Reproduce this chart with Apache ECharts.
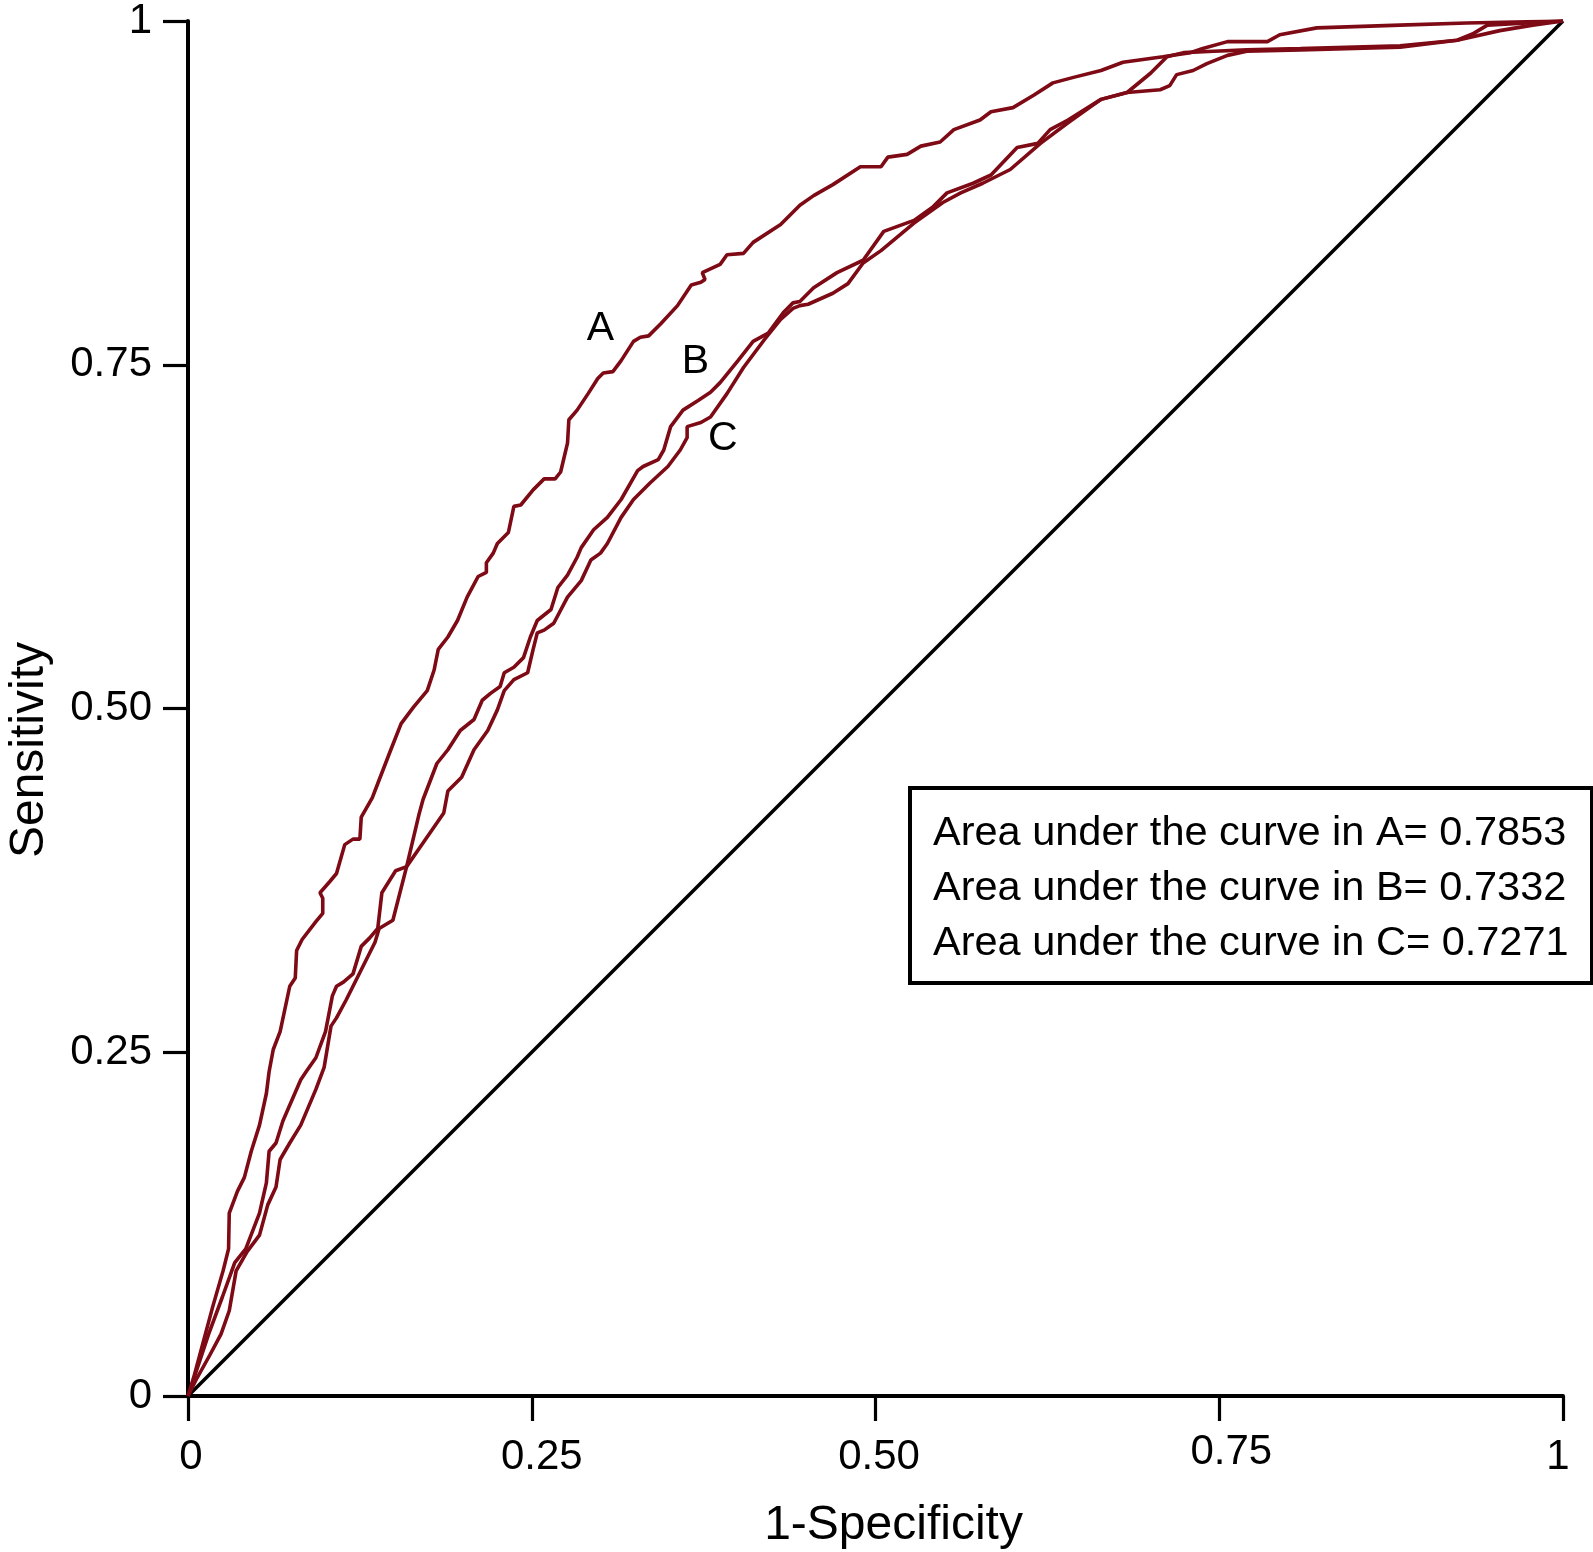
<!DOCTYPE html>
<html>
<head>
<meta charset="utf-8">
<script src="https://cdn.jsdelivr.net/npm/echarts@6/dist/echarts.min.js"></script>
<style>
html,body{margin:0;padding:0;background:#fff;}
#chart{width:1593px;height:1552px;}
</style>
</head>
<body>
<div id="chart"></div>
<script>
// ---- data ----
const xTicks = [0, 0.25, 0.5, 0.75, 1];
const yTicks = [0, 0.25, 0.5, 0.75, 1];
const diagonal = [[0,0],[1,1]];
const curveA = [
[0,0],[0.004,0.013],[0.011,0.039],[0.018,0.065],[0.0255,0.091],[0.0295,0.107],[0.030,0.133],[0.036,0.149],[0.041,0.159],[0.046,0.178],[0.052,0.197],[0.057,0.220],[0.059,0.236],[0.062,0.252],[0.067,0.265],[0.074,0.298],[0.078,0.304],[0.079,0.324],[0.083,0.332],[0.093,0.345],[0.098,0.351],[0.098,0.362],[0.096,0.366],[0.103,0.374],[0.108,0.380],[0.114,0.401],[0.120,0.405],[0.125,0.405],[0.126,0.421],[0.134,0.435],[0.139,0.448],[0.1475,0.470],
[0.155,0.489],[0.164,0.501],[0.174,0.513],[0.179,0.528],[0.182,0.543],[0.189,0.552],[0.196,0.564],[0.203,0.581],[0.211,0.596],[0.217,0.599],[0.217,0.606],[0.222,0.613],[0.225,0.620],[0.233,0.628],[0.237,0.647],[0.242,0.648],[0.251,0.659],[0.259,0.667],[0.267,0.667],[0.271,0.672],[0.276,0.693],[0.277,0.710],[0.283,0.717],[0.291,0.729],[0.298,0.740],[0.302,0.744],[0.309,0.745],[0.315,0.753],[0.324,0.767],[0.329,0.770],[0.335,0.771],[0.344,0.780],[0.356,0.793],[0.366,0.808],[0.373,0.810],[0.376,0.812],[0.374,0.817],[0.387,0.823],[0.392,0.830],[0.404,0.831],
[0.411,0.839],[0.431,0.852],[0.445,0.866],[0.455,0.873],[0.469,0.881],[0.489,0.894],[0.504,0.894],[0.509,0.901],[0.523,0.903],[0.533,0.909],[0.547,0.912],[0.557,0.921],[0.576,0.928],[0.584,0.934],[0.600,0.937],[0.615,0.946],[0.629,0.955],[0.644,0.959],[0.664,0.964],
[0.680,0.970],[0.709,0.974],[0.729,0.977],[0.738,0.980],[0.756,0.985],[0.785,0.985],[0.794,0.990],[0.821,0.995],[0.8815,0.997],[0.930,0.9985],[1,1]
];
const curveB = [
[0,0],[0.005,0.015],[0.015,0.045],[0.025,0.072],[0.034,0.097],[0.042,0.107],[0.052,0.133],[0.057,0.155],[0.059,0.178],[0.064,0.184],[0.069,0.200],[0.082,0.230],[0.086,0.236],[0.093,0.246],[0.100,0.265],[0.105,0.291],[0.108,0.298],[0.113,0.301],[0.120,0.307],[0.126,0.327],[0.132,0.333],[0.138,0.340],[0.141,0.366],[0.151,0.382],[0.159,0.385],[0.168,0.423],[0.171,0.434],[0.181,0.460],
[0.189,0.470],[0.198,0.484],[0.208,0.492],[0.214,0.506],[0.220,0.511],[0.227,0.516],[0.230,0.526],[0.237,0.530],[0.244,0.537],[0.249,0.552],[0.254,0.564],[0.264,0.572],[0.269,0.588],[0.276,0.597],[0.283,0.610],[0.286,0.617],[0.295,0.630],[0.305,0.639],[0.315,0.652],[0.327,0.673],[0.331,0.676],[0.342,0.681],[0.346,0.688],[0.351,0.705],[0.360,0.717],[0.371,0.724],[0.380,0.730],[0.387,0.737],[0.400,0.753],[0.411,0.767],[0.422,0.773],[0.433,0.788],[0.440,0.795],[0.445,0.796],
[0.455,0.806],[0.472,0.817],[0.491,0.826],[0.506,0.847],[0.528,0.855],[0.542,0.865],[0.552,0.875],[0.571,0.882],[0.584,0.888],[0.603,0.908],[0.618,0.911],[0.627,0.921],[0.640,0.928],[0.664,0.943],
[0.683,0.948],[0.700,0.962],[0.712,0.974],[0.724,0.977],[0.746,0.978],[0.770,0.979],[0.809,0.980],[0.8815,0.982],[0.923,0.986],[0.935,0.991],[0.945,0.997],[1,1]
];
const curveC = [
[0,0],[0.006,0.012],[0.016,0.030],[0.024,0.045],[0.030,0.062],[0.035,0.091],[0.043,0.105],[0.052,0.117],[0.058,0.139],[0.064,0.152],[0.067,0.172],[0.074,0.184],[0.082,0.197],[0.093,0.223],[0.099,0.239],[0.104,0.269],[0.108,0.275],[0.115,0.288],[0.123,0.304],[0.136,0.330],[0.139,0.340],[0.149,0.346],[0.159,0.385],[0.168,0.398],[0.186,0.424],[0.189,0.440],[0.199,0.450],
[0.208,0.470],[0.218,0.484],[0.225,0.499],[0.230,0.513],[0.237,0.521],[0.247,0.526],[0.251,0.543],[0.254,0.555],[0.259,0.557],[0.266,0.562],[0.276,0.581],[0.286,0.593],[0.293,0.608],[0.300,0.613],[0.305,0.620],[0.315,0.639],[0.324,0.652],[0.336,0.664],[0.349,0.676],[0.358,0.688],[0.363,0.697],[0.363,0.705],[0.373,0.708],[0.380,0.712],[0.392,0.729],[0.404,0.748],[0.419,0.768],[0.431,0.783],[0.440,0.791],[0.445,0.793],
[0.451,0.794],[0.469,0.802],[0.480,0.809],[0.491,0.824],[0.504,0.833],[0.528,0.853],[0.549,0.868],[0.562,0.875],[0.578,0.882],[0.598,0.892],[0.620,0.911],[0.640,0.926],[0.664,0.943],
[0.683,0.948],[0.707,0.950],[0.714,0.953],[0.719,0.961],[0.731,0.964],[0.741,0.969],[0.756,0.975],[0.770,0.978],[0.809,0.979],[0.8815,0.981],[0.923,0.986],[0.954,0.993],[0.978,0.997],[1,1]
];
const curveLabels = [
  {name:'A', coord:[0.300,0.776]},
  {name:'B', coord:[0.369,0.752]},
  {name:'C', coord:[0.389,0.696]}
];
const aucLines = [
  'Area under the curve in A= 0.7853',
  'Area under the curve in B= 0.7332',
  'Area under the curve in C= 0.7271'
];
const xTitle = '1-Specificity';
const yTitle = 'Sensitivity';

// ---- chart ----
const FONT = '"Liberation Sans", Arial, Helvetica, sans-serif';
const RED = '#7d0a14';
const fmt = v => (v === 0 ? '0' : v === 1 ? '1' : v.toFixed(2));
const lab = (pad) => ({fontSize:42, fontFamily:FONT, color:'#000', padding:pad});
const xRich = {
  s0:lab([0,0,0,6]), s25:lab([0,0,0,20]), s50:lab([0,0,0,7]),
  s75:lab([0,0,0,24]), s100:lab([0,10,0,0])
};
const xKey = v => 's' + Math.round(v * 100);
const chart = echarts.init(document.getElementById('chart'), null, {renderer:'canvas'});

function curveSeries(name, data, label) {
  return {
    type:'line', name, data, xAxisIndex:0, yAxisIndex:0,
    showSymbol:false, symbol:'none', smooth:false,
    lineStyle:{color:RED, width:3.6}, z:3, silent:true,
    markPoint:{
      symbol:'circle', symbolSize:0, silent:true,
      label:{show:true, position:'inside', formatter:label.name, color:'#000', fontSize:41, fontFamily:FONT},
      data:[{coord:label.coord}]
    }
  };
}

const option = {
  backgroundColor:'#fff',
  animation:false,
  grid:{left:188, right:30, top:21, bottom:156, containLabel:false, outerBoundsMode:'none'},
  xAxis:[{
    type:'value', min:xTicks[0], max:xTicks[xTicks.length-1], interval:0.25, position:'bottom',
    name:xTitle, nameLocation:'middle', nameGap:106,
    nameTextStyle:{fontSize:48, fontFamily:FONT, color:'#000', padding:[0,0,0,36]},
    axisLine:{show:true, lineStyle:{color:'#000', width:4}},
    axisTick:{show:true, inside:false, length:25, lineStyle:{color:'#000', width:3.2}},
    axisLabel:{margin:40, fontSize:42, fontFamily:FONT, color:'#000', rich:xRich,
      formatter:v => (v === 0.75 ? '' : '{' + xKey(v) + '|' + fmt(v) + '}')},
    splitLine:{show:false}
  },{
    type:'value', min:xTicks[0], max:xTicks[xTicks.length-1], interval:0.25, position:'bottom',
    axisLine:{show:false}, axisTick:{show:false}, splitLine:{show:false},
    axisLabel:{margin:35, fontSize:42, fontFamily:FONT, color:'#000', rich:xRich,
      formatter:v => (v === 0.75 ? '{' + xKey(v) + '|' + fmt(v) + '}' : '')}
  }],
  yAxis:{
    type:'value', min:yTicks[0], max:yTicks[yTicks.length-1], interval:0.25,
    name:yTitle, nameLocation:'middle', nameGap:134, nameRotate:90,
    nameTextStyle:{fontSize:48, fontFamily:FONT, color:'#000', padding:[0,83,0,0]},
    axisLine:{show:true, lineStyle:{color:'#000', width:4}},
    axisTick:{show:true, inside:false, length:25, lineStyle:{color:'#000', width:3.2}},
    axisLabel:{margin:36, fontSize:42, fontFamily:FONT, color:'#000', formatter:fmt},
    splitLine:{show:false}
  },
  series:[
    {type:'line', name:'reference', data:diagonal, showSymbol:false, symbol:'none',
     lineStyle:{color:'#000', width:3.6}, z:2, silent:true},
    curveSeries('A', curveA, curveLabels[0]),
    curveSeries('B', curveB, curveLabels[1]),
    curveSeries('C', curveC, curveLabels[2])
  ],
  graphic:[{
    type:'group', left:908, top:786, z:10,
    children:[
      {type:'rect', shape:{x:0, y:0, width:682, height:195},
       style:{fill:'#fff', stroke:'#000', lineWidth:4}},
      {type:'text', x:23, y:46, style:{text:aucLines[0], font:'41.5px '+FONT, fill:'#000', verticalAlign:'middle', textVerticalAlign:'middle'}},
      {type:'text', x:23, y:101, style:{text:aucLines[1], font:'41.5px '+FONT, fill:'#000', verticalAlign:'middle', textVerticalAlign:'middle'}},
      {type:'text', x:23, y:156, style:{text:aucLines[2], font:'41.5px '+FONT, fill:'#000', verticalAlign:'middle', textVerticalAlign:'middle'}}
    ]
  }]
};
chart.setOption(option);
</script>
</body>
</html>
